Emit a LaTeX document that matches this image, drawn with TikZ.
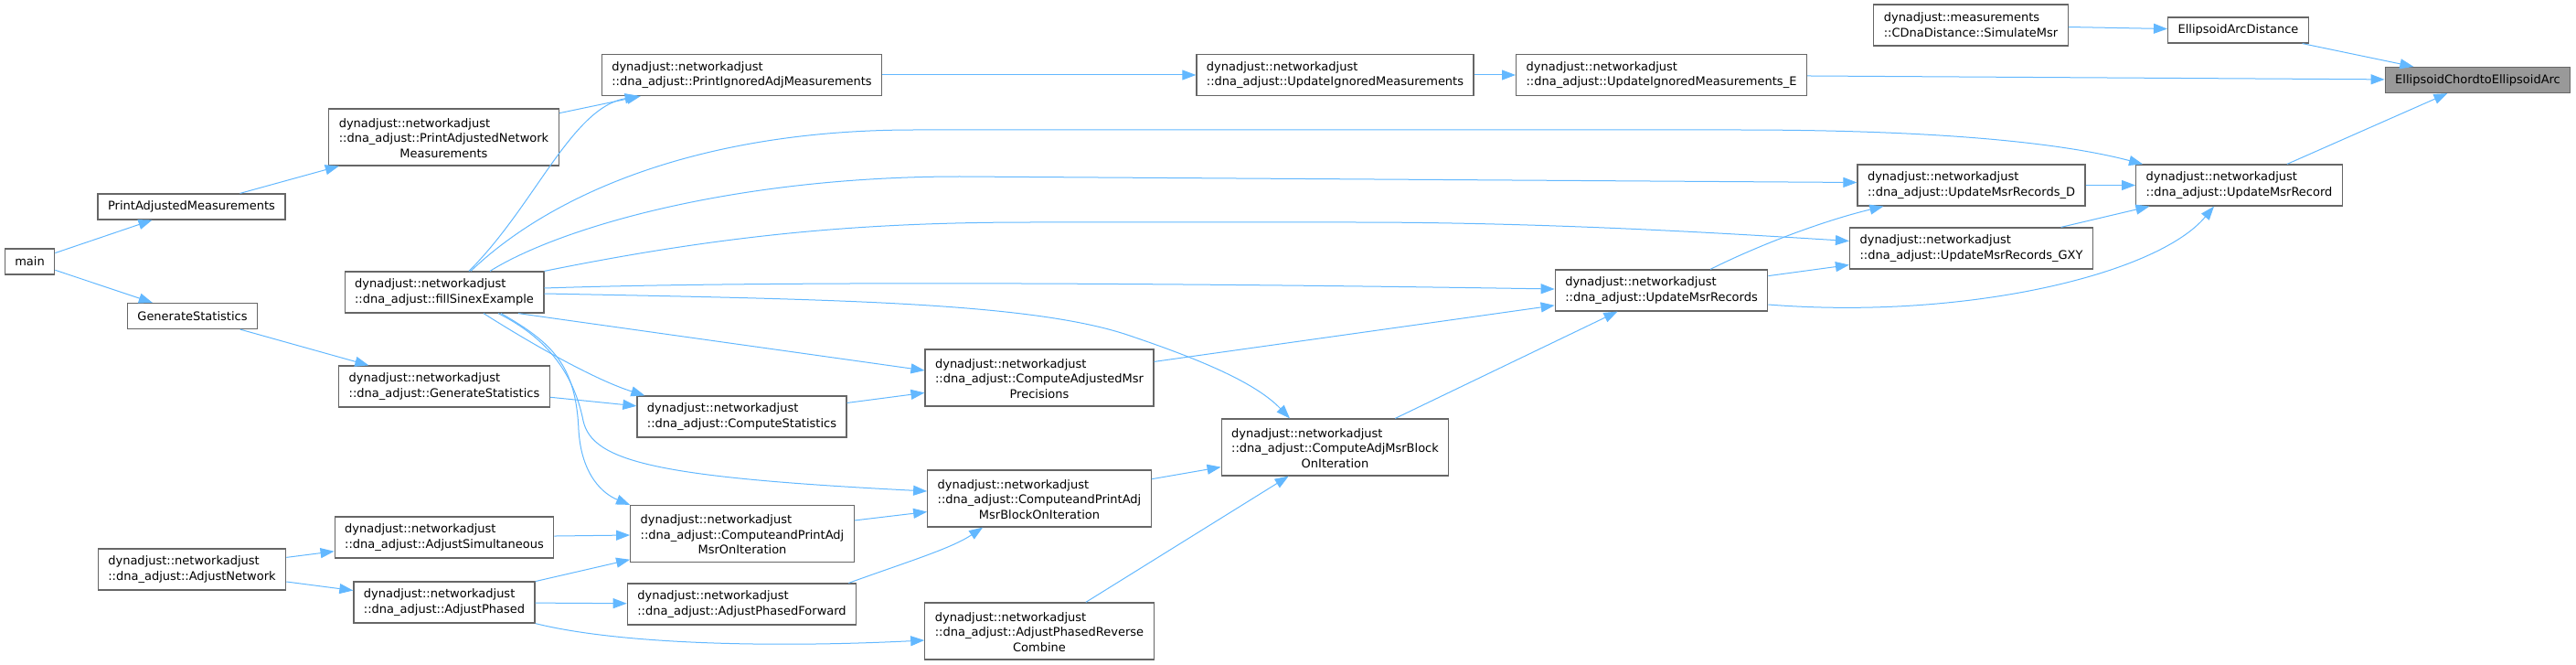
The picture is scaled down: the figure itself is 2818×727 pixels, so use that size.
\documentclass[tikz,border=0pt]{standalone}
\usepackage{fontspec}
\setmainfont{DejaVu Sans}
\usepackage{tikz}
\usetikzlibrary{arrows.meta}
\definecolor{edgeblue}{HTML}{63B8FF}
\definecolor{boxgray}{HTML}{666666}
\definecolor{targetgray}{HTML}{999999}

\begin{document}
\begin{tikzpicture}[
  x=0.5pt, y=-0.5pt,
  font=\fontsize{6.5}{8.35}\selectfont,
  fn/.style={rectangle, draw=boxgray, fill=white, line width=0.6pt, inner xsep=5.5pt, inner ysep=0pt, minimum height=22.5pt, align=left},
  fnthree/.style={fn, minimum height=31pt, align=center},
  fnone/.style={fn, minimum height=14pt},
  target/.style={fnone, fill=targetgray},
  arrow/.style={-{Triangle[length=7.5pt, width=5.5pt]}, draw=edgeblue, line width=0.5pt}
]
\useasboundingbox (0,0) rectangle (2818,727);

\node[target] (target) at (2710.5,87.5) {EllipsoidChordtoEllipsoidArc};
\node[fnone] (arcdist) at (2448.5,33) {EllipsoidArcDistance};
\node[fn] (simmsr) at (2156,27.5) {dynadjust::measurements\\::CDnaDistance::SimulateMsr};
\node[fn] (updE) at (1817.5,82) {dynadjust::networkadjust\\::dna\_adjust::UpdateIgnoredMeasurements\_E};
\node[fn] (updIgn) at (1460.5,82) {dynadjust::networkadjust\\::dna\_adjust::UpdateIgnoredMeasurements};
\node[fn] (prIgn) at (811.5,82) {dynadjust::networkadjust\\::dna\_adjust::PrintIgnoredAdjMeasurements};
\node[fnthree] (prNet) at (485.5,150) {\begin{tabular}[b]{@{}l@{}}dynadjust::networkadjust\\::dna\_adjust::PrintAdjustedNetwork\end{tabular}\\Measurements};
\node[fnone] (prAdj) at (209.5,226) {PrintAdjustedMeasurements};
\node[fnone] (main) at (32.5,286) {main};
\node[fnone] (genStat) at (210.5,345.5) {GenerateStatistics};
\node[fn] (fillSinex) at (486,319.5) {dynadjust::networkadjust\\::dna\_adjust::fillSinexExample};
\node[fn] (dnaGen) at (486,422.5) {dynadjust::networkadjust\\::dna\_adjust::GenerateStatistics};
\node[fn] (compStat) at (811.5,455.5) {dynadjust::networkadjust\\::dna\_adjust::ComputeStatistics};
\node[fnthree] (cpaMsr) at (812,583.5) {\begin{tabular}[b]{@{}l@{}}dynadjust::networkadjust\\::dna\_adjust::ComputeandPrintAdj\end{tabular}\\MsrOnIteration};
\node[fn] (adjSim) at (486,587.5) {dynadjust::networkadjust\\::dna\_adjust::AdjustSimultaneous};
\node[fn] (adjNet) at (210,622.5) {dynadjust::networkadjust\\::dna\_adjust::AdjustNetwork};
\node[fn] (adjPh) at (486,658.5) {dynadjust::networkadjust\\::dna\_adjust::AdjustPhased};
\node[fn] (adjFwd) at (811.5,660.5) {dynadjust::networkadjust\\::dna\_adjust::AdjustPhasedForward};
\node[fnthree] (camp) at (1137,413) {\begin{tabular}[b]{@{}l@{}}dynadjust::networkadjust\\::dna\_adjust::ComputeAdjustedMsr\end{tabular}\\Precisions};
\node[fnthree] (cpaBlock) at (1137,545) {\begin{tabular}[b]{@{}l@{}}dynadjust::networkadjust\\::dna\_adjust::ComputeandPrintAdj\end{tabular}\\MsrBlockOnIteration};
\node[fnthree] (aprc) at (1137,690) {\begin{tabular}[b]{@{}l@{}}dynadjust::networkadjust\\::dna\_adjust::AdjustPhasedReverse\end{tabular}\\Combine};
\node[fnthree] (camBlock) at (1460.5,489) {\begin{tabular}[b]{@{}l@{}}dynadjust::networkadjust\\::dna\_adjust::ComputeAdjMsrBlock\end{tabular}\\OnIteration};
\node[fn] (updRecs) at (1817.5,317.5) {dynadjust::networkadjust\\::dna\_adjust::UpdateMsrRecords};
\node[fn] (updD) at (2156.5,202.5) {dynadjust::networkadjust\\::dna\_adjust::UpdateMsrRecords\_D};
\node[fn] (updGXY) at (2156.5,271.5) {dynadjust::networkadjust\\::dna\_adjust::UpdateMsrRecords\_GXY};
\node[fn] (updRec) at (2449.5,202.5) {dynadjust::networkadjust\\::dna\_adjust::UpdateMsrRecord};

\draw[arrow] (simmsr) -- (arcdist);
\draw[arrow] (arcdist) -- (target);
\draw[arrow] (updE) -- (target);
\draw[arrow] (updRec) -- (target);
\draw[arrow] (updIgn) -- (updE);
\draw[arrow] (prIgn) -- (updIgn);
\draw[arrow] (prNet) -- (prIgn);
\draw[arrow] ([xshift=13.5pt]fillSinex.north) .. controls (585,225) and (625,118) .. ([xshift=20.5pt]prIgn.south west);
\draw[arrow] ([xshift=14.5pt]fillSinex.north) .. controls (600,215) and (760,142) .. (1000,142) -- (1900,142) .. controls (2150,142) and (2270,160) .. ([xshift=4pt]updRec.north west);
\draw[arrow] ([xshift=25pt]fillSinex.north) .. controls (610,250) and (800,193) .. (1050,193) -- ([yshift=1.5pt]updD.west);
\draw[arrow] (fillSinex.north east) .. controls (800,255) and (950,243) .. (1130,243) -- (1480,243) .. controls (1700,243) and (1900,256) .. ([yshift=4pt]updGXY.west);
\draw[arrow] ([yshift=2.25pt]fillSinex.east) .. controls (800,308) and (1200,308) .. ([yshift=0.75pt]updRecs.west);
\draw[arrow] ([yshift=-0.75pt]fillSinex.east) .. controls (900,327) and (1120,330) .. (1230,365) .. controls (1320,395) and (1375,420) .. ([xshift=-24.75pt]camBlock.north);
\draw[arrow] ([xshift=40.5pt]fillSinex.south) -- ([yshift=4pt]camp.west);
\draw[arrow] ([xshift=21.5pt]fillSinex.south) .. controls (580,375) and (650,415) .. ([xshift=4.5pt]compStat.north west);
\draw[arrow] ([xshift=29.5pt]fillSinex.south) .. controls (600,370) and (628,410) .. (638,460) .. controls (648,505) and (720,522) .. ([yshift=4pt]cpaBlock.west);
\draw[arrow] ([xshift=31pt]fillSinex.south) .. controls (605,375) and (630,400) .. (633,470) .. controls (636,520) and (660,540) .. (cpaMsr.north west);
\draw[arrow] (main) -- (prAdj);
\draw[arrow] (main) -- (genStat);
\draw[arrow] (prAdj) -- (prNet);
\draw[arrow] (genStat) -- (dnaGen);
\draw[arrow] (dnaGen) -- (compStat);
\draw[arrow] (compStat) -- (camp);
\draw[arrow] (camp) -- (updRecs);
\draw[arrow] (camBlock) -- (updRecs);
\draw[arrow] (cpaMsr) -- (cpaBlock);
\draw[arrow] (cpaBlock) -- (camBlock);
\draw[arrow] (aprc) -- (camBlock);
\draw[arrow] (adjNet) -- (adjSim);
\draw[arrow] (adjNet) -- (adjPh);
\draw[arrow] (adjSim) -- (cpaMsr);
\draw[arrow] (adjPh) -- (cpaMsr);
\draw[arrow] (adjPh) -- (adjFwd);
\draw[arrow] (adjPh.south east) .. controls (680,705) and (850,708) .. ([yshift=-5pt]aprc.west);
\draw[arrow] ([xshift=-4.5pt]adjFwd.north east) .. controls (990,615) and (1040,600) .. ([xshift=30.5pt]cpaBlock.south west);
\draw[arrow] ([xshift=26.75pt]updRecs.north) .. controls (1930,265) and (2000,240) .. ([xshift=14.5pt]updD.south west);
\draw[arrow] (updRecs) -- (updGXY);
\draw[arrow] ([yshift=-7.75pt]updRecs.east) .. controls (2150,350) and (2360,300) .. ([xshift=-13.75pt]updRec.south);
\draw[arrow] (updD) -- (updRec);
\draw[arrow] (updGXY) -- (updRec);

\end{tikzpicture}
\end{document}
